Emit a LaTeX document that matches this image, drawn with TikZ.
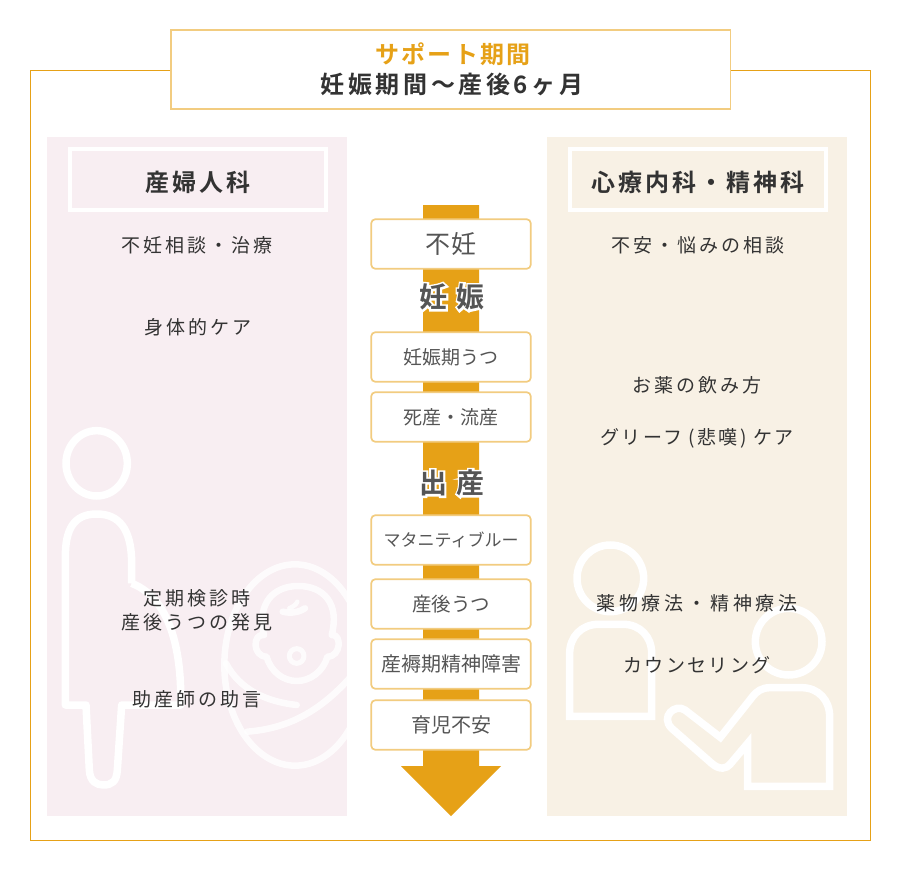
\documentclass[tikz,border=0pt]{standalone}
\usepackage{fontspec}
\setmainfont{Noto Sans CJK JP}
\newfontfamily\cjkA[LetterSpace=16]{Noto Sans CJK JP}
\newfontfamily\cjkE[LetterSpace=12]{Noto Sans CJK JP}
\newfontfamily\cjkF[LetterSpace=20]{Noto Sans CJK JP}
\newfontfamily\cjkB[LetterSpace=12,BoldFont={Noto Sans CJK JP Bold}]{Noto Sans CJK JP}
\newfontfamily\cjkG[LetterSpace=10,BoldFont={Noto Sans CJK JP Bold}]{Noto Sans CJK JP}
\newfontfamily\cjkD[LetterSpace=15,BoldFont={Noto Sans CJK JP Bold}]{Noto Sans CJK JP}
\newfontfamily\cjkC[LetterSpace=3]{Noto Sans CJK JP}
\definecolor{gold}{HTML}{E6A117}
\definecolor{lgold}{HTML}{F2CC80}
\definecolor{pinkbg}{HTML}{F8EEF2}
\definecolor{creambg}{HTML}{F8F1E5}
\definecolor{ink}{HTML}{333333}
\definecolor{midgray}{HTML}{555555}
\newcommand{\halotext}[1]{\rlap{\special{pdf: code q 1 Tr 4 w 1 1 1 RG}#1\special{pdf: code Q}}#1}
\tikzset{
  x=1pt,y=-1pt,
  panel/.style={draw=none,minimum width=300pt,minimum height=679pt,inner sep=0pt,anchor=north west},
  headbox/.style={draw=white,line width=4pt,minimum width=256pt,minimum height=61pt,inner sep=0pt},
  headtext/.style={text=ink,inner sep=0pt,font=\cjkB\fontsize{24}{28}\selectfont\bfseries},
  stagebox/.style={draw=lgold,fill=white,line width=1.7pt,rounded corners=4pt,minimum width=159.5pt,minimum height=49.5pt,inner sep=0pt,text=midgray},
  care/.style={text=ink,inner sep=0pt,align=center,font=\cjkA\fontsize{19}{24}\selectfont},
  stagehead/.style={text=midgray,inner sep=0pt,font=\cjkB\fontsize{28}{32}\selectfont\bfseries},
  icon/.style={draw=white,line width=7.5pt,miter limit=10},
  iconthin/.style={draw=white,opacity=.8,line width=6.5pt,line cap=round,line join=round},
}
\begin{document}
\begin{tikzpicture}
\useasboundingbox (0,0) rectangle (900,880);
\fill[white] (0,0) rectangle (900,880);
\node[draw=gold,line width=.9pt,minimum width=840pt,minimum height=770pt,inner sep=0pt,anchor=north west] (frame) at (30,70) {};
\node[panel,fill=pinkbg] (left) at (47,137) {};
\node[panel,fill=creambg] (right) at (547,137) {};

% left icons
\begin{scope}
\clip (47,137) rectangle (347,816);
\begin{scope}[shift={(40,400)},scale=1/3]
\draw[icon] (170,190) ellipse [x radius=92,y radius=98];
\draw[icon,line join=round] (275,550) -- (275,480) .. controls (272,390) and (240,342) .. (170,342)
  .. controls (100,342) and (76,390) .. (76,470) -- (76,915) -- (138,915) -- (148,1110)
  .. controls (150,1145) and (170,1155) .. (190,1155) .. controls (215,1155) and (230,1145) .. (232,1110)
  -- (245,915) -- (422,915) .. controls (425,790) and (405,600) .. (275,550);
\draw[iconthin] (765,795) ellipse [x radius=212,y radius=302];
\draw[iconthin] (672,705) .. controls (650,610) and (700,558) .. (775,558) .. controls (850,558) and (900,610) .. (875,705)
  .. controls (905,700) and (905,770) .. (862,770) .. controls (850,815) and (810,843) .. (770,843)
  .. controls (730,843) and (692,815) .. (680,770) .. controls (637,770) and (637,700) .. (672,705);
\draw[iconthin] (728,635) .. controls (755,642) and (780,635) .. (795,625);
\draw[iconthin,line width=4.5pt] (748,625) .. controls (760,620) and (770,612) .. (772,605);
\draw[iconthin,line width=5pt] (770,768) circle [radius=22];
\draw[iconthin] (558,790) .. controls (600,870) and (680,905) .. (770,915);
\draw[iconthin] (622,995) .. controls (750,985) and (850,930) .. (950,810);
\end{scope}
\end{scope}

% right icons
\begin{scope}[shift={(540,520)},scale=1/3]
\draw[icon] (211,175) circle [radius=100];
\draw[icon] (89,589) -- (89,400) .. controls (89,350) and (125,313) .. (175,313) -- (250,313)
  .. controls (300,313) and (335,350) .. (335,400) -- (335,589) -- cycle;
\draw[icon] (746,365) circle [radius=100];
\draw[icon] (623,799) -- (869,799) -- (869,590) .. controls (869,540) and (835,503) .. (785,503) -- (690,503)
  .. controls (665,503) and (650,515) .. (640,527) -- (541,652) -- (435,570)
  .. controls (405,550) and (360,590) .. (395,625) -- (515,730)
  .. controls (540,752) and (560,745) .. (570,733) -- (623,670) -- cycle;
\end{scope}

% column headers
\node[headbox] (lh) at (197.5,179.5) {};
\node[headbox] (rh) at (697.5,179.5) {};
\node[headtext] (lht) at (198,182) {産婦人科};
\node[headtext] (rht) at (698,182) {心療内科・精神科};

% title
\node[draw=lgold,fill=white,line width=1.8pt,minimum width=559.5pt,minimum height=79.5pt,inner sep=0pt,anchor=north west] (title) at (170,29) {};
\node[text=gold,inner sep=0pt,font=\cjkG\fontsize{24}{26}\selectfont\bfseries] (t1) at (453,54) {サポート期間};
\node[text=ink,inner sep=0pt,font=\cjkD\fontsize{24}{26}\selectfont\bfseries] (t2) at (452,84.5) {妊娠期間〜産後6ヶ月};

% arrow
\fill[gold] (423,205) -- (479,205) -- (479,766) -- (501,766) -- (451,816) -- (401,766) -- (423,766) -- cycle;

% stages
\node[stagebox,font=\cjkC\fontsize{25}{28}\selectfont] (s1) at (451,244) {不妊};
\node[stagebox,font=\fontsize{19}{24}\selectfont] (s2) at (451,357) {妊娠期うつ};
\node[stagebox,font=\fontsize{19}{24}\selectfont] (s3) at (451,417) {死産・流産};
\node[stagebox,font=\fontsize{17}{24}\selectfont] (s4) at (451,540) {マタニティブルー};
\node[stagebox,font=\fontsize{19.5}{24}\selectfont] (s5) at (451,604) {産後うつ};
\node[stagebox,font=\fontsize{20}{24}\selectfont] (s6) at (451,664) {産褥期精神障害};
\node[stagebox,font=\fontsize{20}{24}\selectfont] (s7) at (451,725) {育児不安};

\node[stagehead] (h1) at (452,297) {\halotext{妊 娠}};
\node[stagehead] (h2) at (452,483) {\halotext{出 産}};

% left care
\node[care] (l1) at (197,245) {不妊相談・治療};
\node[care] (l2) at (198,327) {身体的ケア};
\node[care] (l3) at (197,610) {定期検診時\\[0pt]産後うつの発見};
\node[care] (l4) at (197,699) {助産師の助言};
% right care
\node[care] (r1) at (698,245) {不安・悩みの相談};
\node[care] (r2) at (697,385) {お薬の飲み方};
\node[care,font=\cjkE\fontsize{19}{24}\selectfont] (r3) at (697,438) {グリーフ (悲嘆) ケア};
\node[care,font=\cjkF\fontsize{19}{24}\selectfont] (r4) at (697,603) {薬物療法・精神療法};
\node[care,font=\cjkE\fontsize{19}{24}\selectfont] (r5) at (697,665) {カウンセリング};
\end{tikzpicture}
\end{document}
